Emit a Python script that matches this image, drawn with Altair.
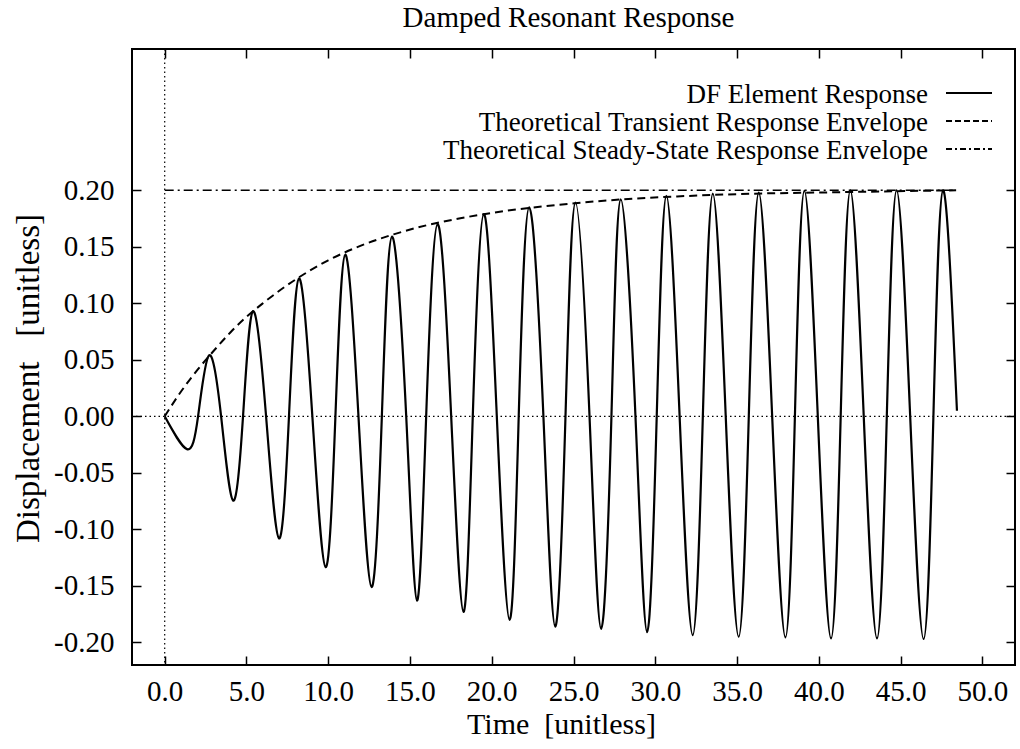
import altair as alt
import pandas as pd

# ---- data ----
resp_t = [0.00, 1.36, 2.04, 2.71, 3.45, 4.18, 4.79, 5.40, 6.20, 6.99, 7.60, 8.21,
          9.03, 9.84, 10.44, 11.04, 11.85, 12.65, 13.28, 13.90, 14.77, 15.43, 15.99,
          16.69, 17.52, 18.27, 18.84, 19.52, 20.31, 21.09, 21.65, 22.29, 23.16, 23.88,
          24.51, 25.12, 25.98, 26.69, 27.32, 27.89, 28.79, 29.50, 30.09, 30.68, 31.49,
          32.29, 32.91, 33.52, 34.31, 35.10, 35.72, 36.33, 37.15, 37.96, 38.54, 39.12,
          39.94, 40.75, 41.34, 41.93, 42.75, 43.56, 44.16, 44.76, 45.59, 46.41, 47.01,
          47.60, 48.45]
resp_v = [0.000, -0.029, 0.000, 0.054, 0.000, -0.0745, 0.000, 0.093, 0.000, -0.108, 0.000, 0.122,
          0.000, -0.1335, 0.000, 0.143, 0.000, -0.151, 0.000, 0.159, 0.000, -0.163, 0.000,
          0.170, 0.000, -0.173, 0.000, 0.179, 0.000, -0.180, 0.000, 0.185, 0.000, -0.186,
          0.000, 0.189, 0.000, -0.188, 0.000, 0.192, 0.000, -0.191, 0.000, 0.195, 0.000,
          -0.1935, 0.000, 0.197, 0.000, -0.195, 0.000, 0.198, 0.000, -0.1956, 0.000, 0.1995,
          0.000, -0.1965, 0.000, 0.200, 0.000, -0.1965, 0.000, 0.200, 0.000, -0.197, 0.000,
          0.200, 0.005]

env_t = [0, 1, 2, 3, 4, 5, 6, 8, 10, 12, 14, 16, 18, 20, 24, 28, 32, 36, 40, 44, 48.4]
env_v = [0.0, 0.022, 0.041, 0.058, 0.074, 0.088, 0.100, 0.121, 0.138, 0.151, 0.161,
         0.169, 0.175, 0.180, 0.187, 0.192, 0.195, 0.197, 0.198, 0.199, 0.200]

steady_t = [0.0, 48.4]
steady_v = [0.2, 0.2]

zero_x = [0.0]
zero_y = [0.0]

x_ticks = [0, 5, 10, 15, 20, 25, 30, 35, 40, 45, 50]
y_ticks = [-0.2, -0.15, -0.1, -0.05, 0.0, 0.05, 0.1, 0.15, 0.2]

legend_labels = ["DF Element Response",
                 "Theoretical Transient Response Envelope",
                 "Theoretical Steady-State Response Envelope"]

title_text = ["Damped Resonant Response"]
x_title = "Time \u00a0[unitless]"
y_title = "Displacement \u00a0\u00a0[unitless]"

# ---- layout ----
W, H = 883, 616
FONT = "Liberation Serif"
FS = 29
FS_LEG = 27
FS_AX = 30
FS_YT = 33

x_scale = alt.Scale(domain=[-2, 52], nice=False, zero=False)
y_scale = alt.Scale(domain=[-0.22, 0.325], nice=False, zero=False)

resp_df = pd.DataFrame({"t": resp_t, "v": resp_v})
env_df = pd.DataFrame({"t": env_t, "v": env_v})
steady_df = pd.DataFrame({"t": steady_t, "v": steady_v})
zx_df = pd.DataFrame({"z": zero_x})
zy_df = pd.DataFrame({"z": zero_y})
title_df = pd.DataFrame({"label": title_text})

tick_common = dict(labels=False, domain=False, grid=False, ticks=True, tickSize=9,
                   tickWidth=1.5, tickColor="black", title="")

zero_v = alt.Chart(zx_df).mark_rule(color="black", strokeWidth=1.2, strokeDash=[1.5, 3]).encode(
    x=alt.X("z:Q", scale=x_scale, axis=None))
zero_h = alt.Chart(zy_df).mark_rule(color="black", strokeWidth=1.2, strokeDash=[1.5, 3]).encode(
    y=alt.Y("z:Q", scale=y_scale, axis=None))

steady = alt.Chart(steady_df).mark_line(color="black", strokeWidth=1.6,
                                        strokeDash=[9, 4, 2, 4]).encode(
    x=alt.X("t:Q", scale=x_scale,
            axis=alt.Axis(orient="bottom", offset=-H, values=x_ticks, **tick_common)),
    y=alt.Y("v:Q", scale=y_scale,
            axis=alt.Axis(orient="left", offset=-W, values=y_ticks, **tick_common)),
)

env = alt.Chart(env_df).mark_line(color="black", strokeWidth=2, strokeDash=[8, 5],
                                  interpolate="monotone").encode(
    x=alt.X("t:Q", scale=x_scale,
            axis=alt.Axis(orient="top", offset=-H, values=x_ticks, **tick_common)),
    y=alt.Y("v:Q", scale=y_scale,
            axis=alt.Axis(orient="right", offset=-W, values=y_ticks, **tick_common)),
)

resp = alt.Chart(resp_df).mark_line(color="black", strokeWidth=2.2,
                                    interpolate="natural").encode(
    x=alt.X("t:Q", scale=x_scale,
            axis=alt.Axis(orient="bottom", values=x_ticks, format=".1f", ticks=False,
                          domain=False, grid=False, labelFont=FONT, labelFontSize=FS,
                          labelColor="black", labelPadding=12, labelFlush=False,
                          title=x_title, titleFont=FONT, titleFontSize=FS_AX,
                          titleFontWeight="normal", titleColor="black",
                          titleX=429, titleY=68, titleBaseline="alphabetic",
                          titleAlign="center")),
    y=alt.Y("v:Q", scale=y_scale,
            axis=alt.Axis(orient="left", values=y_ticks,
                          labelExpr="replace(format(datum.value, '.2f'), '\u2212', '-')",
                          ticks=False, domain=False, grid=False, labelFont=FONT,
                          labelFontSize=FS, labelColor="black", labelPadding=18,
                          labelFlush=False,
                          title=y_title, titleFont=FONT, titleFontSize=FS_YT,
                          titleFontWeight="normal", titleColor="black",
                          titleX=-94, titleY=329, titleAngle=270,
                          titleBaseline="alphabetic", titleAlign="center")),
)

title_layer = alt.Chart(title_df).mark_text(align="center", baseline="alphabetic", font=FONT,
                                            fontSize=FS, color="black").encode(
    text="label:N", x=alt.value(W / 2 - 5), y=alt.value(-22))

legend_rows_y = [46, 74, 102]
legend_dash = [[1, 0], [6, 3], [6, 3, 2, 3]]
legend_layers = []
for label, yy, dash in zip(legend_labels, legend_rows_y, legend_dash):
    ldf = pd.DataFrame({"label": [label]})
    legend_layers.append(
        alt.Chart(ldf).mark_text(align="right", baseline="middle", font=FONT,
                                 fontSize=FS_LEG, color="black").encode(
            text="label:N", x=alt.value(796), y=alt.value(yy)))
    legend_layers.append(
        alt.Chart(ldf).mark_rule(color="black", strokeWidth=1.8, strokeDash=dash).encode(
            x=alt.value(814), x2=alt.value(860), y=alt.value(yy - 2)))

chart = alt.layer(zero_v, zero_h, steady, env, resp, title_layer, *legend_layers).resolve_axis(
    x="independent", y="independent"
).properties(
    width=W, height=H,
    autosize=alt.AutoSizeParams(type="none"),
    padding={"left": 132, "top": 49, "right": 5, "bottom": 84},
).configure_view(stroke="black", strokeWidth=2).configure_axis(grid=False)

chart.save("out.html", embed_options={"renderer": "svg", "actions": False})
